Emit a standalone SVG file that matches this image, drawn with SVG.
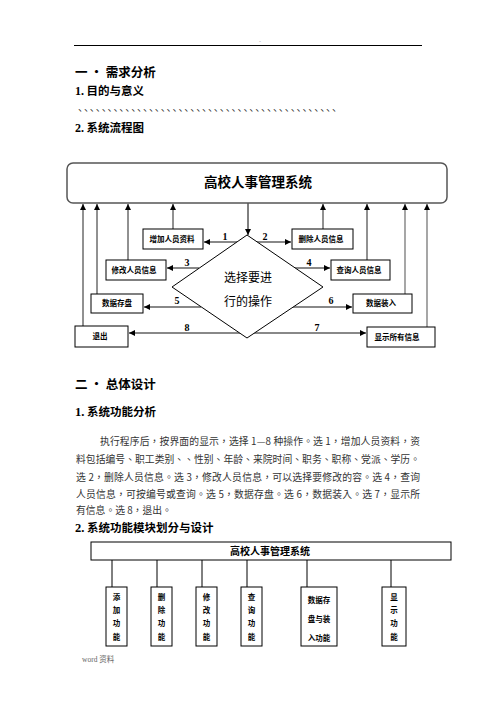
<svg xmlns="http://www.w3.org/2000/svg" width="496" height="702" viewBox="0 0 496 702">
<defs>
<marker id="ah" markerUnits="userSpaceOnUse" markerWidth="7" markerHeight="6" refX="6" refY="3" orient="auto">
<path d="M0,0 L6,3 L0,6 z" fill="#000"/>
</marker>
<style>
.h1{font-family:"Noto Sans CJK SC","Noto Sans CJK JP",sans-serif;font-weight:bold;font-size:12.5px;fill:#000}
.h2{font-family:"Noto Sans CJK SC","Noto Sans CJK JP",sans-serif;font-weight:bold;font-size:11.5px;fill:#000}
.num{font-family:"Liberation Serif",serif;font-weight:bold}
.p{font-family:"Noto Sans CJK TC","Noto Sans CJK SC",sans-serif;font-size:9.8px;fill:#333}
.box{fill:#fff;stroke:#000;stroke-width:1}
.bt{font-family:"Noto Sans CJK SC","Noto Sans CJK JP",sans-serif;font-weight:bold;font-size:7.5px;fill:#000;text-anchor:middle}
.lbl{font-family:"Liberation Serif",serif;font-weight:bold;font-size:10px;fill:#000;text-anchor:middle}
.up{stroke:#222;stroke-width:1;fill:none;marker-end:url(#ah)}
.upg{stroke:#777;stroke-width:1.3;fill:none;marker-end:url(#ah)}
.hz{stroke:#888;stroke-width:2;fill:none;marker-end:url(#ah)}
.ln{stroke:#000;stroke-width:1;fill:none}
.vt{font-family:"Noto Sans CJK SC","Noto Sans CJK JP",sans-serif;font-weight:bold;font-size:7.5px;fill:#000;text-anchor:middle}
</style>
</defs>
<rect width="496" height="702" fill="#fff"/>

<!-- page header -->
<text x="260" y="43" font-family="Liberation Sans, sans-serif" font-size="6" fill="#999" text-anchor="middle">-</text>
<line x1="74" y1="45.5" x2="422" y2="45.5" stroke="#000" stroke-width="1"/>

<!-- section 1 -->
<text x="75" y="77" class="h1">一 · 需求分析</text>
<text x="75" y="95" class="h2" font-size="11"><tspan class="num" font-size="12">1.</tspan> 目的与意义</text>
<text x="78" y="111" font-family="Noto Sans CJK SC, sans-serif" font-size="10" fill="#333" textLength="264" lengthAdjust="spacing">、、、、、、、、、、、、、、、、、、、、、、、、、、、、、、、、、、、、、、、、、、、、</text>
<text x="75" y="132" class="h2" font-size="11"><tspan class="num" font-size="12">2.</tspan> 系统流程图</text>

<!-- flow chart -->
<g id="connectors">
<line class="ln" x1="248" y1="203" x2="248" y2="235" marker-end="url(#ah)"/>
<line class="up" x1="83" y1="326" x2="83" y2="204"/>
<line class="up" x1="97" y1="294" x2="97" y2="204"/>
<line class="up" x1="128" y1="260" x2="128" y2="204"/>
<line class="up" x1="173" y1="229" x2="173" y2="204"/>
<line class="up" x1="323" y1="229" x2="323" y2="204"/>
<line class="up" x1="367" y1="260" x2="367" y2="204"/>
<line class="upg" x1="405" y1="294" x2="405" y2="204"/>
<line class="upg" x1="427" y1="327" x2="427" y2="204"/>
<line class="hz" x1="237" y1="242" x2="204" y2="242"/>
<line class="hz" x1="257" y1="242" x2="291" y2="242"/>
<line class="hz" x1="199" y1="268" x2="167" y2="268"/>
<line class="hz" x1="295" y1="268" x2="330" y2="268"/>
<line class="hz" x1="201" y1="307" x2="144" y2="307"/>
<line class="hz" x1="293" y1="307" x2="352" y2="307"/>
<line class="hz" x1="240" y1="333" x2="129" y2="333"/>
<line class="hz" x1="254" y1="333" x2="366" y2="333"/>
<text class="lbl" x="225" y="239.5">1</text>
<text class="lbl" x="265" y="239.5">2</text>
<text class="lbl" x="187" y="265.5">3</text>
<text class="lbl" x="309" y="265.5">4</text>
<text class="lbl" x="177" y="304">5</text>
<text class="lbl" x="331" y="304">6</text>
<text class="lbl" x="187" y="330.5">8</text>
<text class="lbl" x="317" y="330.5">7</text>
</g>

<g id="sys">
<rect x="67" y="163" width="380" height="40" rx="6" ry="6" fill="#fff" stroke="#555" stroke-width="1.5"/>
<text x="258" y="187" font-family="Noto Sans CJK SC, sans-serif" font-weight="bold" font-size="13.5" text-anchor="middle">高校人事管理系统</text>
</g>
<g id="choose">
<polygon points="247,235 323,287 247,338 172,287" fill="#fff" stroke="#000" stroke-width="1"/>
<text x="248" y="282" font-family="Noto Sans CJK SC, sans-serif" font-size="12" text-anchor="middle">选择要进</text>
<text x="248" y="306" font-family="Noto Sans CJK SC, sans-serif" font-size="12" text-anchor="middle">行的操作</text>
</g>
<g id="add"><rect class="box" x="143" y="229" width="60" height="20"/><text class="bt" x="172" y="241.8">增加人员资料</text></g>
<g id="del"><rect class="box" x="292" y="229" width="61" height="20"/><text class="bt" x="321" y="241.8">删除人员信息</text></g>
<g id="mod"><rect class="box" x="106" y="260" width="60" height="20"/><text class="bt" x="134" y="272.8">修改人员信息</text></g>
<g id="qry"><rect class="box" x="331" y="260" width="59" height="20"/><text class="bt" x="359" y="272.8">查询人员信息</text></g>
<g id="save"><rect class="box" x="91" y="294" width="52" height="19"/><text class="bt" x="117" y="306.3">数据存盘</text></g>
<g id="load"><rect class="box" x="353" y="294" width="59" height="19"/><text class="bt" x="381" y="306.3">数据装入</text></g>
<g id="exit"><rect class="box" x="75" y="326" width="53" height="21"/><text class="bt" x="100" y="339.3">退出</text></g>
<g id="show"><rect class="box" x="367" y="327" width="68" height="20"/><text class="bt" x="397" y="339.8">显示所有信息</text></g>

<!-- section 2 -->
<text x="75" y="389" class="h1">二 · 总体设计</text>
<text x="75" y="416" class="h2"><tspan class="num" font-size="12.5">1.</tspan> 系统功能分析</text>
<text class="p" x="100" y="445" textLength="320" lengthAdjust="spacing">执行程序后，按界面的显示，选择 1—8 种操作。选 1，增加人员资料，资</text>
<text class="p" x="76" y="463" textLength="344" lengthAdjust="spacing">料包括编号、职工类别、、性别、年龄、来院时间、职务、职称、党派、学历。</text>
<text class="p" x="76" y="481" textLength="344" lengthAdjust="spacing">选 2，删除人员信息。选 3，修改人员信息，可以选择要修改的容。选 4，查询</text>
<text class="p" x="76" y="498" textLength="344" lengthAdjust="spacing">人员信息，可按编号或查询。选 5，数据存盘。选 6，数据装入。选 7，显示所</text>
<text class="p" x="76" y="514">有信息。选 8，退出。</text>
<text x="75" y="532" class="h2"><tspan class="num" font-size="12.5">2.</tspan> 系统功能模块划分与设计</text>

<!-- module diagram -->
<g id="connectors2">
<line class="ln" x1="112" y1="560" x2="112" y2="587"/>
<line class="ln" x1="157" y1="560" x2="157" y2="587"/>
<line class="ln" x1="202" y1="560" x2="202" y2="587"/>
<line class="ln" x1="247" y1="560" x2="247" y2="587"/>
<line class="ln" x1="307" y1="560" x2="307" y2="587"/>
<line class="ln" x1="391" y1="560" x2="391" y2="587"/>
</g>
<g id="sys2">
<rect class="box" x="91" y="542" width="360" height="18"/>
<text x="270" y="555" font-family="Noto Sans CJK SC, sans-serif" font-weight="bold" font-size="10" text-anchor="middle">高校人事管理系统</text>
</g>
<g id="m_add"><rect class="box" x="106" y="587" width="21" height="59"/>
<text class="vt" x="116.5" y="600">添</text><text class="vt" x="116.5" y="613">加</text><text class="vt" x="116.5" y="626">功</text><text class="vt" x="116.5" y="640">能</text></g>
<g id="m_del"><rect class="box" x="151" y="587" width="21" height="59"/>
<text class="vt" x="161.5" y="600">删</text><text class="vt" x="161.5" y="613">除</text><text class="vt" x="161.5" y="626">功</text><text class="vt" x="161.5" y="640">能</text></g>
<g id="m_mod"><rect class="box" x="196" y="587" width="21" height="59"/>
<text class="vt" x="206.5" y="600">修</text><text class="vt" x="206.5" y="613">改</text><text class="vt" x="206.5" y="626">功</text><text class="vt" x="206.5" y="640">能</text></g>
<g id="m_qry"><rect class="box" x="241" y="587" width="21" height="59"/>
<text class="vt" x="251.5" y="600">查</text><text class="vt" x="251.5" y="613">询</text><text class="vt" x="251.5" y="626">功</text><text class="vt" x="251.5" y="640">能</text></g>
<g id="m_data"><rect class="box" x="301" y="587" width="36" height="59"/>
<text class="vt" x="319" y="603">数据存</text><text class="vt" x="319" y="622">盘与装</text><text class="vt" x="319" y="641">入功能</text></g>
<g id="m_show"><rect class="box" x="382" y="587" width="24" height="59"/>
<text class="vt" x="394" y="600">显</text><text class="vt" x="394" y="613">示</text><text class="vt" x="394" y="626">功</text><text class="vt" x="394" y="640">能</text></g>

<!-- footer -->
<text x="82" y="662" font-family="Liberation Serif, serif" font-size="7.5" fill="#666">word <tspan font-family="Noto Sans CJK SC, sans-serif">资料</tspan></text>
</svg>
